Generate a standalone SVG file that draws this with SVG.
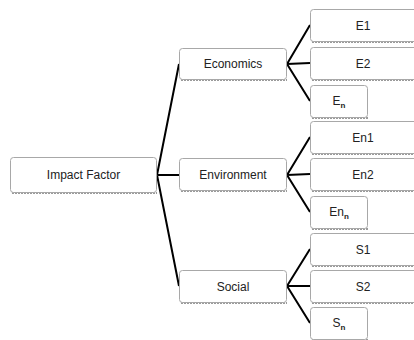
<svg xmlns="http://www.w3.org/2000/svg" width="414" height="340" viewBox="0 0 414 340">
<defs>
<style>
.box{fill:#fff;stroke:#a8a8a8;stroke-width:1}
.sh{fill:none;stroke:#9a9a9a;stroke-width:2;stroke-dasharray:2 1}
.t{font-family:"Liberation Sans",Arial,sans-serif;font-size:12px;fill:#222;text-anchor:middle}
.sub{font-size:8px;fill:#222;font-weight:bold}
.c{fill:none;stroke:#000;stroke-width:2}
</style>
</defs>
<rect width="414" height="340" fill="#fff"/>
<g id="connectors">
<path class="c" d="M157 175 L179 64 M157 175 L179 175 M157 175 L179 286"/>
<path class="c" d="M287 64 L310 25 M287 64 L310 63 M287 64 L310 101"/>
<path class="c" d="M287 175 L310 137 M287 175 L310 174 M287 175 L310 212"/>
<path class="c" d="M287 286 L310 249 M287 286 L310 286 M287 286 L310 323"/>
</g>
<g id="impact">
<line class="sh" x1="12" y1="193" x2="157" y2="193"/>
<rect class="box" x="10.5" y="157.5" width="146" height="35" rx="3"/>
<text class="t" x="83.5" y="179">Impact Factor</text>
</g>
<g id="economics">
<line class="sh" x1="181" y1="80" x2="287" y2="80"/>
<rect class="box" x="179.5" y="48.5" width="107" height="31" rx="3"/>
<text class="t" x="233" y="68">Economics</text>
</g>
<g id="environment">
<line class="sh" x1="181" y1="191" x2="287" y2="191"/>
<rect class="box" x="179.5" y="158.5" width="107" height="32" rx="3"/>
<text class="t" x="233" y="179">Environment</text>
</g>
<g id="social">
<line class="sh" x1="181" y1="303" x2="287" y2="303"/>
<rect class="box" x="179.5" y="270.5" width="107" height="32" rx="3"/>
<text class="t" x="233" y="291">Social</text>
</g>
<g id="e1">
<line class="sh" x1="312" y1="42" x2="414" y2="42"/>
<rect class="box" x="310.5" y="9.5" width="110" height="32" rx="3"/>
<text class="t" x="363" y="30">E1</text>
</g>
<g id="e2">
<line class="sh" x1="312" y1="80" x2="414" y2="80"/>
<rect class="box" x="310.5" y="47.5" width="110" height="32" rx="3"/>
<text class="t" x="363" y="68">E2</text>
</g>
<g id="en">
<line class="sh" x1="312" y1="118" x2="368" y2="118"/>
<rect class="box" x="310.5" y="85.5" width="57" height="32" rx="3"/>
<text class="t" x="339" y="105">E<tspan class="sub" dy="3">n</tspan></text>
</g>
<g id="en1">
<line class="sh" x1="312" y1="154" x2="414" y2="154"/>
<rect class="box" x="310.5" y="121.5" width="110" height="32" rx="3"/>
<text class="t" x="363" y="142">En1</text>
</g>
<g id="en2">
<line class="sh" x1="312" y1="191" x2="414" y2="191"/>
<rect class="box" x="310.5" y="158.5" width="110" height="32" rx="3"/>
<text class="t" x="363" y="179">En2</text>
</g>
<g id="enn">
<line class="sh" x1="312" y1="229" x2="368" y2="229"/>
<rect class="box" x="310.5" y="196.5" width="57" height="32" rx="3"/>
<text class="t" x="339" y="216">En<tspan class="sub" dy="3">n</tspan></text>
</g>
<g id="s1">
<line class="sh" x1="312" y1="266" x2="414" y2="266"/>
<rect class="box" x="310.5" y="233.5" width="110" height="32" rx="3"/>
<text class="t" x="363" y="254">S1</text>
</g>
<g id="s2">
<line class="sh" x1="312" y1="303" x2="414" y2="303"/>
<rect class="box" x="310.5" y="270.5" width="110" height="32" rx="3"/>
<text class="t" x="363" y="291">S2</text>
</g>
<g id="sn">
<line class="sh" x1="312" y1="340" x2="368" y2="340"/>
<rect class="box" x="310.5" y="307.5" width="57" height="32" rx="3"/>
<text class="t" x="339" y="327">S<tspan class="sub" dy="3">n</tspan></text>
</g>
</svg>
